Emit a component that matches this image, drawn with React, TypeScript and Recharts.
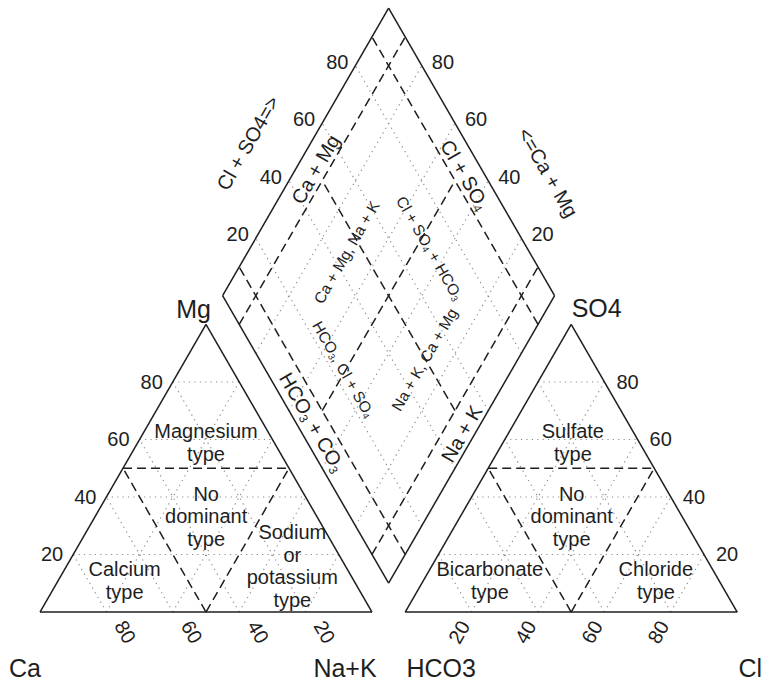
import { ScatterChart, Scatter, XAxis, YAxis, ReferenceLine } from 'recharts'

const WIDTH = 765
const HEIGHT = 686
const PX = 3.32 // pixels per percent along a triangle side
const ORIGIN_X = 40 // pixel position of the Ca corner
const ORIGIN_Y = 612
const GAP = 10 // space between the two triangles, in percent units
const H = Math.sqrt(3) / 2

const X_DOMAIN = [-ORIGIN_X / PX, (WIDTH - ORIGIN_X) / PX]
const Y_DOMAIN = [-(HEIGHT - ORIGIN_Y) / PX, ORIGIN_Y / PX]

const FONT = 'Arial, "Liberation Sans", Helvetica, sans-serif'
const INK = '#1e1e1e'
const GRID_INK = '#8c8c8c'

// tick labels and dotted grid at 20 % steps
const TICKS = [20, 40, 60, 80]
const GRID = [20, 40, 60, 80]
// facies boundaries
const HALF = 50
const STRIPS = [10, 90]

// cation facies, centre of each text block as (Ca %, Mg %)
const CATION_TYPES = [
  { lines: ['Magnesium', 'type'], ca: 20.5, mg: 59 },
  { lines: ['No', 'dominant', 'type'], ca: 33.3, mg: 33.3 },
  { lines: ['Calcium', 'type'], ca: 69, mg: 11 },
  { lines: ['Sodium', 'or', 'potassium', 'type'], ca: 16, mg: 16 },
]

// anion facies, centre of each text block as (Cl %, SO4 %)
const ANION_TYPES = [
  { lines: ['Sulfate', 'type'], cl: 21, so4: 59 },
  { lines: ['No', 'dominant', 'type'], cl: 33.5, so4: 33.3 },
  { lines: ['Bicarbonate', 'type'], cl: 20, so4: 11 },
  { lines: ['Chloride', 'type'], cl: 70, so4: 11 },
]

// diamond labels as (Ca+Mg %, Cl+SO4 %); "_x" is a subscript
const DIAMOND_EDGE_LABELS = [
  { text: 'Ca + Mg', cm: 94, cs: 50, up: true },
  { text: 'Cl + SO_4', cm: 48, cs: 94, up: false },
  { text: 'HCO_3 + CO_3', cm: 51, cs: 5, up: false },
  { text: 'Na + K', cm: 4, cs: 48, up: true },
]
const DIAMOND_FIELD_LABELS = [
  { text: 'Ca + Mg, Na + K', cm: 70.4, cs: 44.8, up: true },
  { text: 'Cl + SO_4 + HCO_3', cm: 45.8, cs: 70.8, up: false },
  { text: 'HCO_3, Cl + SO_4', cm: 50.7, cs: 23.8, up: false },
  { text: 'Na + K, Ca + Mg', cm: 28.3, cs: 49.6, up: true },
]
const DIAMOND_TITLES = [
  { text: 'Cl + SO4=>', cm: 118.9, cs: 34.2, up: true },
  { text: '<=Ca + Mg', cm: 23.4, cs: 119.4, up: false },
]

type Pt = { x: number; y: number }
type Seg = [Pt, Pt]

// cation triangle: Ca bottom-left, Na+K bottom-right, Mg on top
const cation = (ca: number, mg: number): Pt => ({ x: 100 - ca - mg + mg / 2, y: mg * H })
// anion triangle: HCO3 bottom-left, Cl bottom-right, SO4 on top
const anion = (cl: number, so4: number): Pt => ({ x: 100 + GAP + cl + so4 / 2, y: so4 * H })
// diamond: bottom corner Na+K / HCO3, top corner Ca+Mg / Cl+SO4
const diamond = (cm: number, cs: number): Pt => ({
  x: 100 + GAP / 2 + (cs - cm) / 2,
  y: (GAP + cm + cs) * H,
})

const gridSegs: Seg[] = []
GRID.forEach((v) => {
  gridSegs.push([cation(100 - v, v), cation(0, v)])
  gridSegs.push([cation(v, 0), cation(v, 100 - v)])
  gridSegs.push([cation(100 - v, 0), cation(0, 100 - v)])
  gridSegs.push([anion(0, v), anion(100 - v, v)])
  gridSegs.push([anion(v, 0), anion(v, 100 - v)])
  gridSegs.push([anion(100 - v, 0), anion(0, 100 - v)])
  gridSegs.push([diamond(v, 0), diamond(v, 100)])
  gridSegs.push([diamond(0, v), diamond(100, v)])
})

const dashSegs: Seg[] = [
  [cation(HALF, HALF), cation(0, HALF)],
  [cation(HALF, 0), cation(HALF, HALF)],
  [cation(HALF, 0), cation(0, HALF)],
  [anion(0, HALF), anion(HALF, HALF)],
  [anion(HALF, 0), anion(HALF, HALF)],
  [anion(HALF, 0), anion(0, HALF)],
  [diamond(HALF, STRIPS[0]), diamond(HALF, STRIPS[1])],
  [diamond(STRIPS[0], HALF), diamond(STRIPS[1], HALF)],
]
STRIPS.forEach((v) => {
  dashSegs.push([diamond(v, 0), diamond(v, 100)])
  dashSegs.push([diamond(0, v), diamond(100, v)])
})

const frameSegs: Seg[] = [
  [cation(100, 0), cation(0, 0)],
  [cation(0, 0), cation(0, 100)],
  [cation(0, 100), cation(100, 0)],
  [anion(0, 0), anion(100, 0)],
  [anion(100, 0), anion(0, 100)],
  [anion(0, 100), anion(0, 0)],
  [diamond(0, 0), diamond(100, 0)],
  [diamond(100, 0), diamond(100, 100)],
  [diamond(100, 100), diamond(0, 100)],
  [diamond(0, 100), diamond(0, 0)],
]

function rich(text: string, size: number) {
  const parts = text.split(/_(.)/)
  const shift = size * 0.3
  return parts.map((p, i) =>
    i % 2 === 1 ? (
      <tspan key={i} fontSize={size * 0.6} dy={shift}>
        {p}
      </tspan>
    ) : (
      <tspan key={i} dy={i > 0 ? -shift : undefined}>
        {p}
      </tspan>
    )
  )
}

type TextOpts = {
  size: number
  angle?: number
  anchor?: 'start' | 'middle' | 'end'
  dx?: number
  dy?: number
  lineHeight?: number
}

const textShape = (o: TextOpts) => (props: any) => {
  const { cx, cy, payload } = props
  const x = cx + (payload.dx ?? o.dx ?? 0)
  const y = cy + (payload.dy ?? o.dy ?? 0)
  const angle = payload.up === undefined ? o.angle : payload.up ? -60 : 60
  const lines: string[] = payload.lines ?? [payload.text]
  const lh = o.lineHeight ?? o.size * 1.12
  return (
    <text
      x={x}
      y={y}
      textAnchor={o.anchor ?? 'middle'}
      dominantBaseline="central"
      fontSize={o.size}
      fontFamily={FONT}
      fill={INK}
      transform={angle ? `rotate(${angle} ${x} ${y})` : undefined}
    >
      {lines.length === 1
        ? rich(lines[0], o.size)
        : lines.map((l, i) => (
            <tspan key={i} x={x} dy={i === 0 ? -((lines.length - 1) / 2) * lh : lh}>
              {l}
            </tspan>
          ))}
    </text>
  )
}

const segLines = (segs: Seg[], key: string, stroke: string, width: number, dash?: string) =>
  segs.map((s, i) => (
    <ReferenceLine
      key={`${key}${i}`}
      segment={[s[0], s[1]]}
      stroke={stroke}
      strokeWidth={width}
      strokeDasharray={dash}
      ifOverflow="visible"
    />
  ))

export default function App() {
  const cationTypeData = CATION_TYPES.map((t) => ({ ...cation(t.ca, t.mg), lines: t.lines }))
  const anionTypeData = ANION_TYPES.map((t) => ({ ...anion(t.cl, t.so4), lines: t.lines }))
  const edgeData = DIAMOND_EDGE_LABELS.map((l) => ({ ...diamond(l.cm, l.cs), text: l.text, up: l.up }))
  const fieldData = DIAMOND_FIELD_LABELS.map((l) => ({ ...diamond(l.cm, l.cs), text: l.text, up: l.up }))
  const titleData = DIAMOND_TITLES.map((l) => ({ ...diamond(l.cm, l.cs), text: l.text, up: l.up }))

  const mgTicks = TICKS.map((v) => ({ ...cation(100 - v, v), text: String(v) }))
  const caTicks = TICKS.map((v) => ({ ...cation(v, 0), text: String(v) }))
  const so4Ticks = TICKS.map((v) => ({ ...anion(100 - v, v), text: String(v) }))
  const clTicks = TICKS.map((v) => ({ ...anion(v, 0), text: String(v) }))
  const csTicks = TICKS.map((v) => ({ ...diamond(100, v), text: String(v) }))
  const cmTicks = TICKS.map((v) => ({ ...diamond(v, 100), text: String(v) }))

  // corner names, nudged off the vertices
  const corners = [
    { ...cation(100, 0), text: 'Ca', dx: -15, dy: 56 },
    { ...cation(0, 0), text: 'Na+K', dx: -27, dy: 56 },
    { ...cation(0, 100), text: 'Mg', dx: -12.5, dy: -15 },
    { ...anion(0, 0), text: 'HCO3', dx: 36, dy: 56 },
    { ...anion(100, 0), text: 'Cl', dx: 13, dy: 56 },
    { ...anion(0, 100), text: 'SO4', dx: 25.5, dy: -16.5 },
  ]

  return (
    <div style={{ position: 'absolute', left: 0, top: 0, background: '#fff' }}>
      <ScatterChart width={WIDTH} height={HEIGHT} margin={{ top: 0, right: 0, bottom: 0, left: 0 }}>
        <XAxis type="number" dataKey="x" domain={X_DOMAIN} hide allowDataOverflow />
        <YAxis type="number" dataKey="y" domain={Y_DOMAIN} hide allowDataOverflow />

        {segLines(gridSegs, 'grid', GRID_INK, 1.2, '1.2 4.2')}
        {segLines(dashSegs, 'dash', INK, 1.5, '9 5')}
        {segLines(frameSegs, 'frame', INK, 1.5)}

        <Scatter data={cationTypeData} shape={textShape({ size: 20, lineHeight: 22.5 })} isAnimationActive={false} />
        <Scatter data={anionTypeData} shape={textShape({ size: 20, lineHeight: 22.5 })} isAnimationActive={false} />
        <Scatter data={edgeData} shape={textShape({ size: 20 })} isAnimationActive={false} />
        <Scatter data={fieldData} shape={textShape({ size: 15.5 })} isAnimationActive={false} />
        <Scatter data={titleData} shape={textShape({ size: 20 })} isAnimationActive={false} />

        <Scatter data={mgTicks} shape={textShape({ size: 20, anchor: 'end', dx: -10 })} isAnimationActive={false} />
        <Scatter data={caTicks} shape={textShape({ size: 20, angle: 60, dx: 19, dy: 20 })} isAnimationActive={false} />
        <Scatter data={so4Ticks} shape={textShape({ size: 20, anchor: 'start', dx: 12 })} isAnimationActive={false} />
        <Scatter data={clTicks} shape={textShape({ size: 20, angle: -60, dx: -12.5, dy: 20 })} isAnimationActive={false} />
        <Scatter data={csTicks} shape={textShape({ size: 20, anchor: 'end', dx: -7, dy: -4 })} isAnimationActive={false} />
        <Scatter data={cmTicks} shape={textShape({ size: 20, anchor: 'start', dx: 10, dy: -4 })} isAnimationActive={false} />

        <Scatter data={corners} shape={textShape({ size: 25 })} isAnimationActive={false} />
      </ScatterChart>
    </div>
  )
}
